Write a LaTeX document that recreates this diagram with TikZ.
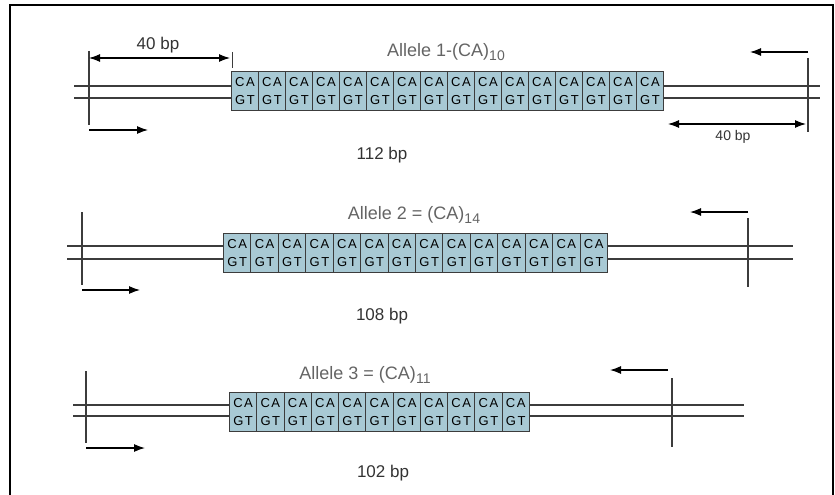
\documentclass[tikz,border=0pt]{standalone}
\usepackage{fontspec}
\setmainfont{Liberation Sans}
\newfontfamily\cellfont[LetterSpace=12]{Liberation Sans}
\usetikzlibrary{arrows.meta, positioning}
\definecolor{repeatfill}{RGB}{168,201,212}
\definecolor{strand}{RGB}{60,60,60}
\definecolor{labelgray}{RGB}{100,100,100}
\newcommand{\repsub}[1]{\raisebox{-0.5ex}{\fontsize{14}{14}\selectfont#1}}

\begin{document}
\begin{tikzpicture}[
  x=1pt, y=-1pt,
  strandline/.style={draw=strand, line width=1.4pt},
  tickline/.style={draw=strand, line width=1.4pt},
  primer/.style={-{Latex[length=11pt,width=8pt]}, line width=1.2pt},
  span/.style={{Latex[length=11pt,width=8pt]}-{Latex[length=11pt,width=8pt]}, line width=1.1pt},
  cell/.style={rectangle, draw=strand, fill=repeatfill, line width=0.9pt, inner sep=0pt,
    minimum height=39pt, align=center, font=\cellfont\fontsize{13}{18}\selectfont},
  allele/.style={font=\fontsize{18}{18}\selectfont, text=labelgray, inner sep=0pt},
  size/.style={font=\fontsize{17}{17}\selectfont, text=black!80, inner sep=0pt}
]
\useasboundingbox (0,0) rectangle (835,495);
\draw[line width=2pt] (10,495) -- (10,5) -- (833,5) -- (833,495);

% allele 1
\coordinate (a1ul) at (74,86);   \coordinate (a1ur) at (820,86);
\coordinate (a1ll) at (74,98);   \coordinate (a1lr) at (820,98);
\draw[strandline] (a1ul) -- (a1ur);
\draw[strandline] (a1ll) -- (a1lr);
\coordinate (a1ft) at (89,51);   \coordinate (a1fb) at (89,125);
\draw[tickline] (a1ft) -- (a1fb);
\coordinate (a1rt) at (808,58);  \coordinate (a1rb) at (808,132);
\draw[tickline] (a1rt) -- (a1rb);
\foreach \i in {0,...,15}
  \node[cell, minimum width=27pt, anchor=north west] (a1c\i) at ({231+27*\i},71) {CA\\GT};
\coordinate (a1mt) at (232,52);  \coordinate (a1mb) at (232,68);
\draw[strand, line width=1pt] (a1mt) -- (a1mb);
\coordinate (a1sl) at (89,58);   \coordinate (a1sr) at (230,58);
\draw[span] (a1sl) -- (a1sr);
\node[size] (a1left) at (158,45) {40 bp};
\coordinate (a1el) at (668,124); \coordinate (a1er) at (806,124);
\draw[span] (a1el) -- (a1er);
\node[size, font=\fontsize{14}{14}\selectfont] (a1right) at (733,137) {40 bp};
\node[allele] (a1name) at (446,52) {Allele 1-(CA)\repsub{10}};
\coordinate (a1fs) at (89,130);  \coordinate (a1fe) at (148,130);
\draw[primer] (a1fs) -- (a1fe);
\coordinate (a1rs) at (808,52);  \coordinate (a1re) at (750,52);
\draw[primer] (a1rs) -- (a1re);
\node[size] (a1len) at (382,155) {112 bp};

% allele 2
\coordinate (a2ul) at (67,246);  \coordinate (a2ur) at (793,246);
\coordinate (a2ll) at (67,259);  \coordinate (a2lr) at (793,259);
\draw[strandline] (a2ul) -- (a2ur);
\draw[strandline] (a2ll) -- (a2lr);
\coordinate (a2ft) at (82,212);  \coordinate (a2fb) at (82,285);
\draw[tickline] (a2ft) -- (a2fb);
\coordinate (a2rt) at (748,218); \coordinate (a2rb) at (748,287);
\draw[tickline] (a2rt) -- (a2rb);
\foreach \i in {0,...,13}
  \node[cell, minimum width=27.43pt, anchor=north west] (a2c\i) at ({223+27.43*\i},233) {CA\\GT};
\node[allele] (a2name) at (414,215) {Allele 2 = (CA)\repsub{14}};
\coordinate (a2fs) at (82,290);  \coordinate (a2fe) at (140,290);
\draw[primer] (a2fs) -- (a2fe);
\coordinate (a2rs) at (748,212); \coordinate (a2re) at (690,212);
\draw[primer] (a2rs) -- (a2re);
\node[size] (a2len) at (382,316) {108 bp};

% allele 3
\coordinate (a3ul) at (73,405);  \coordinate (a3ur) at (744,405);
\coordinate (a3ll) at (73,416);  \coordinate (a3lr) at (744,416);
\draw[strandline] (a3ul) -- (a3ur);
\draw[strandline] (a3ll) -- (a3lr);
\coordinate (a3ft) at (86,371);  \coordinate (a3fb) at (86,443);
\draw[tickline] (a3ft) -- (a3fb);
\coordinate (a3rt) at (672,378); \coordinate (a3rb) at (672,447);
\draw[tickline] (a3rt) -- (a3rb);
\foreach \i in {0,...,10}
  \node[cell, minimum width=27.27pt, anchor=north west] (a3c\i) at ({229+27.27*\i},392) {CA\\GT};
\node[allele] (a3name) at (365,375) {Allele 3 = (CA)\repsub{11}};
\coordinate (a3fs) at (86,448);  \coordinate (a3fe) at (145,448);
\draw[primer] (a3fs) -- (a3fe);
\coordinate (a3rs) at (668,370); \coordinate (a3re) at (610,370);
\draw[primer] (a3rs) -- (a3re);
\node[size] (a3len) at (383,473) {102 bp};
\end{tikzpicture}
\end{document}
